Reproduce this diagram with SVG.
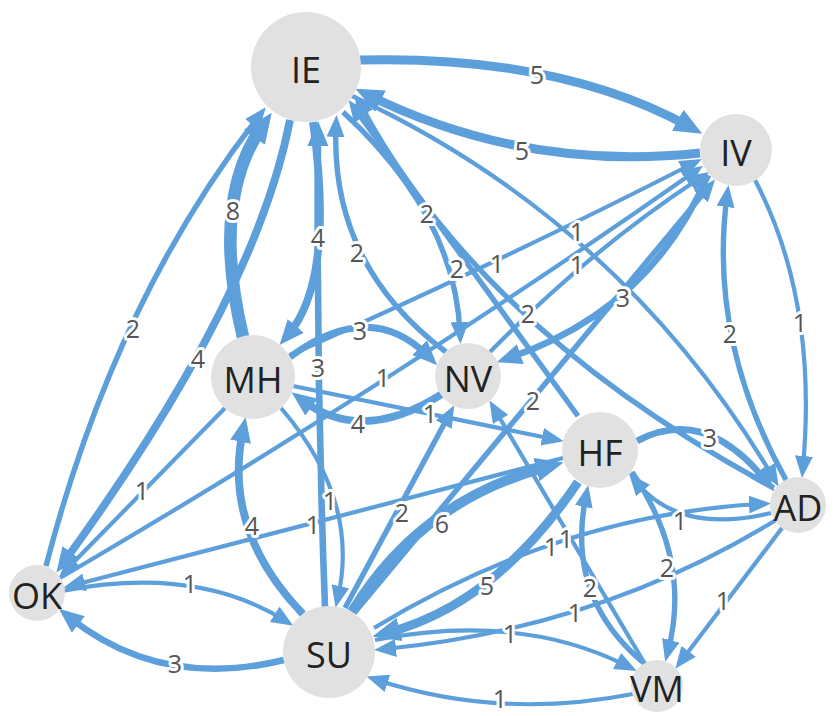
<svg xmlns="http://www.w3.org/2000/svg" width="837" height="716" viewBox="0 0 837 716">
<defs>
<marker id="a1" markerUnits="userSpaceOnUse" viewBox="0 0 22 18" markerWidth="22" markerHeight="18" refX="11" refY="9" orient="auto"><path d="M0,0 L22,9 L0,18 z" fill="#5d9fdb"/></marker>
<marker id="a3" markerUnits="userSpaceOnUse" viewBox="0 0 25 21" markerWidth="25" markerHeight="21" refX="12" refY="10.5" orient="auto"><path d="M0,0 L25,10.5 L0,21 z" fill="#5d9fdb"/></marker>
<marker id="a5" markerUnits="userSpaceOnUse" viewBox="0 0 28 24" markerWidth="28" markerHeight="24" refX="14" refY="12" orient="auto"><path d="M0,0 L28,12 L0,24 z" fill="#5d9fdb"/></marker>
<marker id="a8" markerUnits="userSpaceOnUse" viewBox="0 0 30 26" markerWidth="30" markerHeight="26" refX="15" refY="13" orient="auto"><path d="M0,0 L30,13 L0,26 z" fill="#5d9fdb"/></marker>
</defs>
<style>
.e{fill:none;stroke:#5d9fdb;stroke-linecap:butt}
.w1{stroke-width:4.2;marker-end:url(#a1)}
.w2{stroke-width:5.4;marker-end:url(#a1)}
.w3{stroke-width:6.6;marker-end:url(#a3)}
.w4{stroke-width:7.8;marker-end:url(#a3)}
.w5{stroke-width:9;marker-end:url(#a5)}
.w6{stroke-width:10.2;marker-end:url(#a5)}
.w8{stroke-width:12.6;marker-end:url(#a8)}
.el{font-family:"Open Sans","Noto Sans",sans-serif;font-size:25px;fill:#555;stroke:#fff;stroke-width:6;paint-order:stroke;stroke-linejoin:round;text-anchor:middle;dominant-baseline:central}
.nc{fill:#e1e1e1}
.nl{font-family:"Open Sans","Noto Sans",sans-serif;font-size:36px;fill:#222;text-anchor:middle;dominant-baseline:central}
</style>
<rect width="837" height="716" fill="#fff"/>
<g id="connectors">
<path class="e w5" d="M360 60 Q560 55 690 127"/>
<path class="e w5" d="M700 153 Q525 172 368 95"/>
<path class="e w8" d="M243 337 Q210 200 263 125"/>
<path class="e w2" d="M46 566 Q115 300 259 116"/>
<path class="e w4" d="M290 120 Q255 300 64 562"/>
<path class="e w4" d="M313 122 Q335 280 288 335"/>
<path class="e w3" d="M325 607 Q316 370 318 134"/>
<path class="e w2" d="M446 352 Q330 265 336 126"/>
<path class="e w2" d="M343 112 Q455 215 460 333"/>
<path class="e w2" d="M578 416 L355 109"/>
<path class="e w2" d="M774 488 Q480 330 360 104"/>
<path class="e w1" d="M350 95 Q620 220 773 477"/>
<path class="e w1" d="M290 355 Q500 262 692 164"/>
<path class="e w1" d="M60 578 Q390 385 694 172"/>
<path class="e w1" d="M490 352 Q590 250 700 178"/>
<path class="e w2" d="M355 612 L708 188"/>
<path class="e w3" d="M708 175 Q650 310 509 358"/>
<path class="e w1" d="M755 180 Q818 300 803 467"/>
<path class="e w2" d="M786 480 Q708 340 727 196"/>
<path class="e w3" d="M290 357 Q370 298 428 356"/>
<path class="e w4" d="M442 394 Q362 445 302 400"/>
<path class="e w1" d="M293 386 L553 439"/>
<path class="e w1" d="M225 408 L67 569"/>
<path class="e w1" d="M281 408 Q360 500 338 597"/>
<path class="e w4" d="M303 614 Q222 530 243 430"/>
<path class="e w1" d="M563 458 L74 585"/>
<path class="e w3" d="M284 660 Q160 690 69 617"/>
<path class="e w1" d="M62 591 Q195 565 284 620"/>
<path class="e w2" d="M345 608 L449 415"/>
<path class="e w6" d="M352 612 Q420 500 550 466"/>
<path class="e w5" d="M578 482 Q495 605 386 633"/>
<path class="e w3" d="M637 441 Q705 405 766 481"/>
<path class="e w1" d="M771 513 Q680 535 636 482"/>
<path class="e w1" d="M374 628 Q560 515 760 504"/>
<path class="e w1" d="M776 520 Q600 628 385 649"/>
<path class="e w1" d="M645 664 L495 410"/>
<path class="e w1" d="M375 640 Q520 612 627 666"/>
<path class="e w1" d="M633 694 Q500 720 377 680"/>
<path class="e w2" d="M632 472 Q692 560 668 651"/>
<path class="e w2" d="M645 664 Q565 598 586 496"/>
<path class="e w1" d="M782 528 L682 660"/>
</g>
<g id="edge-labels">
<text class="el" x="537" y="74">5</text>
<text class="el" x="522" y="150">5</text>
<text class="el" x="233" y="210">8</text>
<text class="el" x="133" y="328">2</text>
<text class="el" x="198" y="358">4</text>
<text class="el" x="318" y="237">4</text>
<text class="el" x="318" y="367">3</text>
<text class="el" x="357" y="252">2</text>
<text class="el" x="457" y="268">2</text>
<text class="el" x="427" y="213">2</text>
<text class="el" x="528" y="313">2</text>
<text class="el" x="577" y="231">1</text>
<text class="el" x="497" y="263">1</text>
<text class="el" x="383" y="377">1</text>
<text class="el" x="577" y="264">1</text>
<text class="el" x="533" y="400">2</text>
<text class="el" x="623" y="297">3</text>
<text class="el" x="800" y="322">1</text>
<text class="el" x="730" y="333">2</text>
<text class="el" x="360" y="330">3</text>
<text class="el" x="358" y="423">4</text>
<text class="el" x="430" y="413">1</text>
<text class="el" x="142" y="490">1</text>
<text class="el" x="330" y="500">1</text>
<text class="el" x="252" y="525">4</text>
<text class="el" x="313" y="524">1</text>
<text class="el" x="175" y="663">3</text>
<text class="el" x="190" y="583">1</text>
<text class="el" x="402" y="512">2</text>
<text class="el" x="442" y="523">6</text>
<text class="el" x="487" y="585">5</text>
<text class="el" x="710" y="437">3</text>
<text class="el" x="680" y="520">1</text>
<text class="el" x="551" y="546">1</text>
<text class="el" x="575" y="612">1</text>
<text class="el" x="566" y="538">1</text>
<text class="el" x="510" y="633">1</text>
<text class="el" x="500" y="698">1</text>
<text class="el" x="667" y="567">2</text>
<text class="el" x="590" y="587">2</text>
<text class="el" x="723" y="600">1</text>
</g>
<g id="node-IE"><circle class="nc" cx="306" cy="67" r="55"/><text class="nl" x="306" y="69">IE</text></g>
<g id="node-IV"><circle class="nc" cx="736" cy="150" r="36"/><text class="nl" x="736" y="152">IV</text></g>
<g id="node-MH"><circle class="nc" cx="253" cy="377" r="42"/><text class="nl" x="253" y="379">MH</text></g>
<g id="node-NV"><circle class="nc" cx="468" cy="376" r="33"/><text class="nl" x="468" y="378">NV</text></g>
<g id="node-HF"><circle class="nc" cx="600" cy="450" r="38"/><text class="nl" x="600" y="452">HF</text></g>
<g id="node-AD"><circle class="nc" cx="798" cy="505" r="28"/><text class="nl" x="798" y="507">AD</text></g>
<g id="node-VM"><circle class="nc" cx="657" cy="686" r="26"/><text class="nl" x="657" y="688">VM</text></g>
<g id="node-OK"><circle class="nc" cx="37" cy="593" r="28"/><text class="nl" x="37" y="595">OK</text></g>
<g id="node-SU"><circle class="nc" cx="329" cy="652" r="46"/><text class="nl" x="329" y="654">SU</text></g>
</svg>
